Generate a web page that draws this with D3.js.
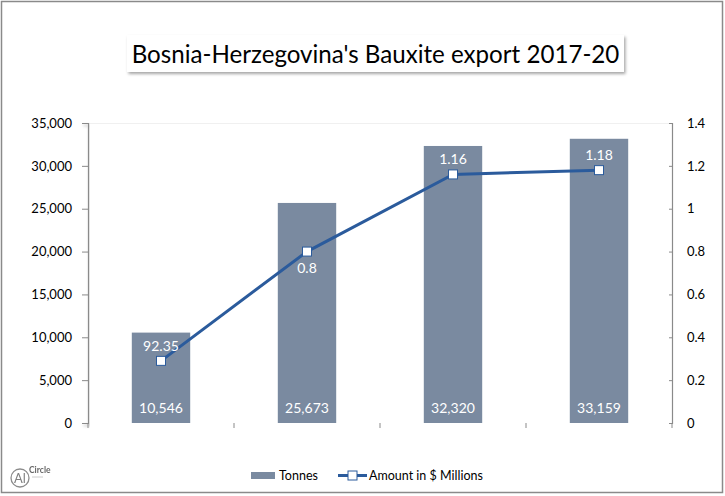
<!DOCTYPE html>
<html>
<head>
<meta charset="utf-8">
<script src="https://cdn.jsdelivr.net/npm/d3@7"></script>
<style>
  body { margin: 0; background: #fff; }
  svg text { font-family: Lato, "Open Sans", sans-serif; }
</style>
</head>
<body>
<div class="chart"></div>
<script>
var years = ["2017", "2018", "2019", "2020"];
var tonnes = [10546, 25673, 32320, 33159];
var amount = [0.29, 0.8, 1.16, 1.18];
var amountLabels = ["92.35", "0.8", "1.16", "1.18"];
var leftTicks = [0, 5000, 10000, 15000, 20000, 25000, 30000, 35000];
var rightTicks = [0, 0.2, 0.4, 0.6, 0.8, 1, 1.2, 1.4];

var W = 725, H = 496;
var margin = { top: 123, right: 53, bottom: 73, left: 88 },
    width = W - margin.left - margin.right,
    height = H - margin.top - margin.bottom;

var svg = d3.select(".chart").append("svg")
    .attr("width", W)
    .attr("height", H);

var defs = svg.append("defs");
var f = defs.append("filter").attr("id", "shadow")
    .attr("x", "-20%").attr("y", "-20%").attr("width", "140%").attr("height", "160%");
f.append("feDropShadow").attr("dx", 1.5).attr("dy", 2).attr("stdDeviation", 1.5)
    .attr("flood-color", "#000").attr("flood-opacity", 0.35);

// outer frame
svg.append("rect")
    .attr("x", 1.5).attr("y", 1.5)
    .attr("width", W - 4).attr("height", H - 5)
    .attr("fill", "#fff").attr("stroke", "#8a8a8a").attr("stroke-width", 1.5);

// title box
var titleG = svg.append("g");
titleG.append("rect")
    .attr("x", 127).attr("y", 35).attr("width", 497).attr("height", 37)
    .attr("fill", "#fff").attr("filter", "url(#shadow)");
var title = titleG.append("text")
    .attr("x", 375.5).attr("y", 63)
    .attr("text-anchor", "middle")
    .style("font-size", "26px")
    .style("fill", "#000")
    .text("Bosnia-Herzegovina's Bauxite export 2017-20");
var tl = title.node().getComputedTextLength();
if (tl > 488) title.style("font-size", (26 * 488 / tl) + "px");

var g = svg.append("g")
    .attr("transform", "translate(" + margin.left + "," + margin.top + ")");

var x = d3.scaleBand().domain(years).range([0, width]).paddingInner(0).paddingOuter(0);
var y1 = d3.scaleLinear().domain([0, 35000]).range([height, 0]);
var y2 = d3.scaleLinear().domain([0, 1.4]).range([height, 0]);

// faint plot top line
g.append("line")
    .attr("x1", 0).attr("x2", width).attr("y1", 0.5).attr("y2", 0.5)
    .attr("stroke", "#f0f0f0");

// axes
var leftAxis = g.append("g").attr("class", "y_axis")
    .call(d3.axisLeft(y1).tickValues(leftTicks).tickSize(6).tickFormat(d3.format(",")));
var rightAxis = g.append("g").attr("class", "y2_axis")
    .attr("transform", "translate(" + width + ",0)")
    .call(d3.axisLeft(y2).tickValues(rightTicks).tickSize(3).tickFormat(function (d) { return d3.format("")(+d.toFixed(1)); }));
var bottomAxis = g.append("g").attr("class", "x_axis")
    .attr("transform", "translate(0," + height + ")")
    .call(d3.axisBottom(x).tickValues([]).tickSizeOuter(0));

leftAxis.select(".domain").attr("filter", "url(#shadow)");
bottomAxis.select(".domain").attr("filter", "url(#shadow)");

[leftAxis, rightAxis, bottomAxis].forEach(function (a) {
    a.select(".domain").attr("stroke", "#8a8a8a").attr("stroke-width", 1.2);
    a.selectAll(".tick line").attr("stroke", "#8a8a8a");
    a.selectAll("text").style("font-size", "13px").style("fill", "#000").style("font-family", "Lato, sans-serif");
});
leftAxis.selectAll("text").attr("x", -16);
rightAxis.selectAll("text").attr("x", 15).attr("text-anchor", "start");

// category boundary ticks
g.selectAll(".cat_tick")
    .data(d3.range(years.length + 1))
    .enter()
    .append("line")
    .attr("class", "cat_tick")
    .attr("x1", function (d) { return d * x.step(); })
    .attr("x2", function (d) { return d * x.step(); })
    .attr("y1", height)
    .attr("y2", height + 5)
    .attr("stroke", "#8a8a8a");

// bars
var barW = x.bandwidth() * 0.4;
g.selectAll(".bar")
    .data(tonnes)
    .enter()
    .append("rect")
    .attr("class", "bar")
    .attr("x", function (d, i) { return x(years[i]) + x.bandwidth() / 2 - barW / 2; })
    .attr("y", function (d) { return y1(d); })
    .attr("width", barW)
    .attr("height", function (d) { return height - y1(d); })
    .style("fill", "#7a8aa0");

g.selectAll(".bar_label")
    .data(tonnes)
    .enter()
    .append("text")
    .attr("class", "bar_label")
    .attr("x", function (d, i) { return x(years[i]) + x.bandwidth() / 2; })
    .attr("y", height - 10)
    .attr("text-anchor", "middle")
    .style("font-size", "14px")
    .style("fill", "#fff")
    .text(function (d) { return d3.format(",")(d); });

// line
var line = d3.line()
    .x(function (d, i) { return x(years[i]) + x.bandwidth() / 2; })
    .y(function (d) { return y2(d); });

g.append("path")
    .datum(amount)
    .attr("d", line)
    .attr("fill", "none")
    .attr("stroke", "#2b5b9c")
    .attr("stroke-width", 3);

g.selectAll(".marker")
    .data(amount)
    .enter()
    .append("rect")
    .attr("class", "marker")
    .attr("x", function (d, i) { return x(years[i]) + x.bandwidth() / 2 - 4.5; })
    .attr("y", function (d) { return y2(d) - 4.5; })
    .attr("width", 9)
    .attr("height", 9)
    .attr("fill", "#fff")
    .attr("stroke", "#2b5b9c")
    .attr("stroke-width", 1);

g.selectAll(".line_label")
    .data(amount)
    .enter()
    .append("text")
    .attr("class", "line_label")
    .attr("x", function (d, i) { return x(years[i]) + x.bandwidth() / 2; })
    .attr("y", function (d, i) { return i == 1 ? y2(d) + 21 : y2(d) - 10; })
    .attr("text-anchor", "middle")
    .style("font-size", "14px")
    .style("fill", "#fff")
    .text(function (d, i) { return amountLabels[i]; });

// legend
var leg = svg.append("g").attr("class", "legend");
leg.append("rect")
    .attr("x", 251).attr("y", 472).attr("width", 24).attr("height", 7)
    .style("fill", "#7a8aa0");
leg.append("text")
    .attr("x", 279).attr("y", 480)
    .style("font-size", "12.5px").style("fill", "#000")
    .text("Tonnes");
leg.append("line")
    .attr("x1", 338).attr("x2", 367).attr("y1", 475.5).attr("y2", 475.5)
    .attr("stroke", "#2b5b9c").attr("stroke-width", 3);
leg.append("rect")
    .attr("x", 348).attr("y", 471).attr("width", 9).attr("height", 9)
    .attr("fill", "#fff").attr("stroke", "#2b5b9c");
leg.append("text")
    .attr("x", 369).attr("y", 480)
    .style("font-size", "12.5px").style("fill", "#000")
    .text("Amount in $ Millions");

// logo
var logo = svg.append("g").attr("class", "logo").style("opacity", 0.75);
logo.append("circle")
    .attr("cx", 20).attr("cy", 478).attr("r", 9)
    .attr("fill", "none").attr("stroke", "#666").attr("stroke-width", 1.3);
logo.append("text")
    .attr("x", 20).attr("y", 483).attr("text-anchor", "middle")
    .style("font-size", "13px").style("fill", "#555")
    .text("Al");
logo.append("text")
    .attr("x", 29).attr("y", 473)
    .style("font-size", "8.5px").style("fill", "#333").style("font-weight", "bold")
    .text("Circle");
logo.append("line")
    .attr("x1", 32).attr("x2", 43).attr("y1", 477).attr("y2", 477)
    .attr("stroke", "#bbb").attr("stroke-width", 1);
</script>
</body>
</html>
